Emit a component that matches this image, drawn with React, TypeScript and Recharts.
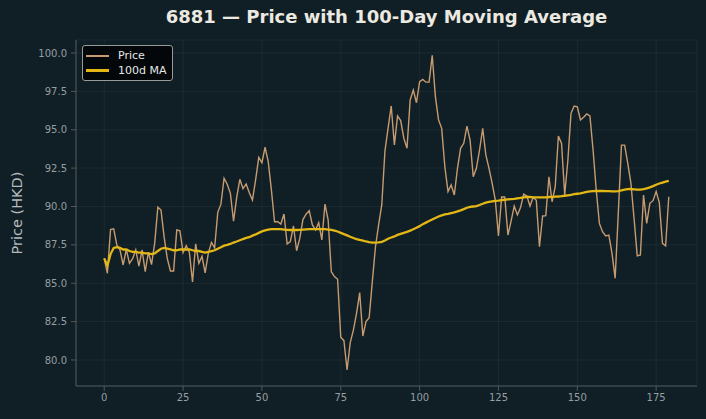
import { CartesianGrid, Line, LineChart, XAxis, YAxis } from 'recharts'

// daily close, HKD
const price = [
  86.62, 85.65, 88.5, 88.55, 87.49, 87.17, 86.19, 87.2, 86.3, 86.6,
  87.17, 86.12, 87.17, 85.75, 87.03, 86.22, 87.6, 89.95, 89.77, 88.0,
  86.6, 85.8, 85.8, 88.47, 88.42, 87.0, 87.45, 87.0, 85.08, 87.57,
  86.3, 86.75, 85.68, 86.95, 87.66, 87.3, 89.62, 90.15, 91.84, 91.45,
  90.86, 89.05, 90.6, 91.77, 91.16, 91.47, 90.9, 90.42, 91.73, 93.2,
  92.85, 93.86, 92.92, 91.08, 89.01, 89.01, 88.86, 89.51, 87.56, 87.71,
  88.73, 87.12, 87.92, 89.15, 89.5, 89.73, 88.8, 88.47, 88.95, 87.82,
  90.16, 89.12, 85.75, 85.43, 85.26, 81.48, 81.26, 79.35, 81.13, 81.95,
  83.04, 84.39, 81.56, 82.5, 82.76, 85.1, 87.38, 88.8, 90.1, 93.6,
  95.1, 96.55, 94.01, 95.9, 95.6, 94.44, 93.79, 96.94, 97.59, 96.76,
  98.13, 98.28, 98.1, 98.1, 99.85, 97.16, 95.64, 95.09, 92.59, 90.97,
  91.4, 90.75, 92.49, 93.79, 94.12, 95.24, 94.33, 91.94, 92.49, 93.68,
  95.09, 93.36, 92.49, 91.51, 90.42, 88.08, 90.62, 90.62, 88.14, 89.05,
  90.03, 89.45, 89.93, 90.81, 90.68, 90.03, 90.6, 90.4, 87.38, 89.38,
  89.4, 91.94, 90.31, 91.29, 94.59, 94.11, 90.75, 93.0, 96.07, 96.55,
  96.5, 95.64, 95.81, 96.03, 95.9, 93.68, 91.07, 88.9, 88.36, 88.08,
  88.14, 86.95, 85.32, 89.6, 94.0, 94.0, 92.81, 91.51, 89.2, 86.78,
  86.84, 90.75, 88.9, 90.21, 90.38, 90.97, 90.25, 87.6, 87.43, 90.64,
]

// 100-day moving average as drawn
const ma100 = [
  86.62, 86.14, 86.9, 87.3, 87.35, 87.3, 87.2, 87.2, 87.1, 87.05,
  87.05, 87.0, 87.0, 86.95, 86.95, 86.9, 86.95, 87.1, 87.25, 87.3,
  87.25, 87.2, 87.15, 87.15, 87.2, 87.2, 87.2, 87.2, 87.15, 87.1,
  87.1, 87.05, 87.0, 87.05, 87.1, 87.15, 87.25, 87.35, 87.45, 87.5,
  87.56, 87.65, 87.72, 87.8, 87.88, 87.95, 88.0, 88.1, 88.18, 88.28,
  88.38, 88.45, 88.5, 88.52, 88.53, 88.53, 88.52, 88.5, 88.48, 88.47,
  88.47, 88.47, 88.48, 88.5, 88.51, 88.52, 88.52, 88.52, 88.52, 88.52,
  88.52, 88.5, 88.47, 88.43, 88.37, 88.28, 88.2, 88.12, 88.03, 87.95,
  87.88, 87.82, 87.77, 87.72, 87.68, 87.65, 87.65, 87.66, 87.7, 87.78,
  87.9, 87.98, 88.05, 88.15, 88.22, 88.28, 88.35, 88.43, 88.52, 88.62,
  88.72, 88.85, 88.95, 89.05, 89.15, 89.25, 89.35, 89.42, 89.48, 89.52,
  89.57, 89.62, 89.68, 89.75, 89.83, 89.92, 89.97, 90.0, 90.03, 90.1,
  90.18, 90.25, 90.3, 90.33, 90.36, 90.38, 90.42, 90.44, 90.46, 90.48,
  90.5, 90.53, 90.56, 90.6, 90.62, 90.62, 90.6, 90.6, 90.6, 90.6,
  90.6, 90.62, 90.63, 90.64, 90.65, 90.67, 90.7, 90.73, 90.76, 90.8,
  90.83, 90.86, 90.9, 90.95, 90.98, 91.0, 91.01, 91.01, 91.01, 91.0,
  91.0, 90.99, 90.98, 91.0, 91.05, 91.1, 91.13, 91.14, 91.12, 91.1,
  91.1, 91.13, 91.18, 91.25, 91.33, 91.42, 91.5, 91.56, 91.62, 91.67,
]

const xTicks = [0, 25, 50, 75, 100, 125, 150, 175]
const yTicks = [80, 82.5, 85, 87.5, 90, 92.5, 95, 97.5, 100]

const BG = '#101f25'
const PRICE_COLOR = '#c79b70'
const MA_COLOR = '#e3b716'
const AXIS = '#4f585c'
const TICK_TEXT = '#959ea3'
const FONT = '"DejaVu Sans", sans-serif'

function LegendBox() {
  const rows = [
    { label: 'Price', color: PRICE_COLOR, width: 2 },
    { label: '100d MA', color: MA_COLOR, width: 3 },
  ]
  return (
    <div
      style={{
        position: 'absolute',
        left: 82,
        top: 45,
        background: 'rgba(2,5,6,0.92)',
        border: '1px solid #9a9a9a',
        borderRadius: 3,
        padding: '2px 5px 2px 3px',
        fontSize: 11,
        color: '#e6e6e6',
        lineHeight: '15px',
        zIndex: 2,
      }}
    >
      {rows.map((r) => (
        <div key={r.label} style={{ display: 'flex', alignItems: 'center' }}>
          <span
            style={{ display: 'inline-block', width: 23, height: r.width, background: r.color, marginRight: 9 }}
          />
          {r.label}
        </div>
      ))}
    </div>
  )
}

export default function App() {
  const data = price.map((p, i) => ({ day: i, price: p, ma: ma100[i] }))

  return (
    <div style={{ position: 'fixed', left: 0, top: 0, width: 706, height: 419, background: BG, fontFamily: FONT }}>
      <div
        style={{
          position: 'absolute',
          top: 6,
          left: 76,
          width: 621,
          textAlign: 'center',
          fontSize: 18,
          fontWeight: 'bold',
          color: '#ece9e1',
        }}
      >
        6881 — Price with 100-Day Moving Average
      </div>
      <div
        style={{
          position: 'absolute',
          left: 17,
          top: 213,
          transform: 'translate(-50%, -50%) rotate(-90deg)',
          whiteSpace: 'nowrap',
          fontSize: 14.5,
          color: '#b4babd',
        }}
      >
        Price (HKD)
      </div>
      <LineChart
        width={706}
        height={419}
        data={data}
        margin={{ top: 40, right: 9, bottom: 0, left: 0 }}
        style={{ position: 'absolute', left: 0, top: 0 }}
      >
        <CartesianGrid stroke="rgba(255,255,255,0.05)" />
        <XAxis
          type="number"
          dataKey="day"
          domain={[-8.95, 187.95]}
          ticks={xTicks}
          allowDataOverflow
          height={33}
          stroke={AXIS}
          tickSize={5}
          tickMargin={3}
          tick={{ fontSize: 10, fill: TICK_TEXT, fontFamily: FONT }}
        />
        <YAxis
          type="number"
          domain={[78.306, 100.847]}
          ticks={yTicks}
          allowDataOverflow
          width={76}
          stroke={AXIS}
          tickSize={5}
          tickMargin={4}
          tickFormatter={(v: number) => v.toFixed(1)}
          tick={{ fontSize: 10, fill: TICK_TEXT, fontFamily: FONT }}
        />
        <Line
          type="linear"
          dataKey="price"
          stroke={PRICE_COLOR}
          strokeWidth={1.4}
          dot={false}
          isAnimationActive={false}
        />
        <Line
          type="linear"
          dataKey="ma"
          stroke={MA_COLOR}
          strokeWidth={2.3}
          dot={false}
          isAnimationActive={false}
        />
      </LineChart>
      <LegendBox />
    </div>
  )
}
